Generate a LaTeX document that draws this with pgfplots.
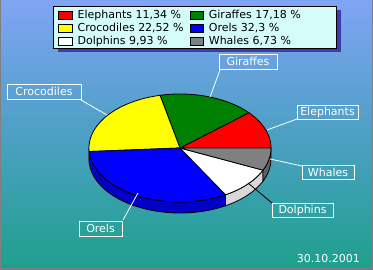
\documentclass[border=0pt]{standalone}
\usepackage{pgfplots}
\pgfplotsset{compat=1.18}
\usepackage{pgfplotstable}
\usepackage{fontspec}
\setmainfont{DejaVu Sans}

\definecolor{bgtop}{HTML}{80A4F4}
\definecolor{bgmid}{HTML}{4CA0C4}
\definecolor{bgbot}{HTML}{1EA08C}
\definecolor{legfill}{HTML}{D4FCF8}
\definecolor{legshadow}{HTML}{3C3CB0}
\definecolor{cEle}{HTML}{FF0000}
\definecolor{cGir}{HTML}{008000}
\definecolor{cCro}{HTML}{FFFF00}
\definecolor{cOre}{HTML}{0000FF}
\definecolor{cDol}{HTML}{FFFFFF}
\definecolor{cWha}{HTML}{808080}
\definecolor{sCro}{HTML}{C8C800}
\definecolor{sOre}{HTML}{0000C8}
\definecolor{sDol}{HTML}{D8D8D8}
\definecolor{sWha}{HTML}{606060}

% shares in percent, counter-clockwise from the right
\pgfplotstableread{
animal     share
Elephants  11.34
Giraffes   17.18
Crocodiles 22.52
Orels      32.3
Dolphins   9.93
Whales     6.73
}\shares

% cumulative slice angles
\def\angA{0}
\pgfplotstablegetelem{0}{share}\of\shares \pgfmathsetmacro\angB{\angA+3.6*\pgfplotsretval}
\pgfplotstablegetelem{1}{share}\of\shares \pgfmathsetmacro\angC{\angB+3.6*\pgfplotsretval}
\pgfplotstablegetelem{2}{share}\of\shares \pgfmathsetmacro\angD{\angC+3.6*\pgfplotsretval}
\pgfplotstablegetelem{3}{share}\of\shares \pgfmathsetmacro\angE{\angD+3.6*\pgfplotsretval}
\pgfplotstablegetelem{4}{share}\of\shares \pgfmathsetmacro\angF{\angE+3.6*\pgfplotsretval}
\pgfplotstablegetelem{5}{share}\of\shares \pgfmathsetmacro\angG{\angF+3.6*\pgfplotsretval}

% pie geometry (axis units = pt)
\def\cx{180}
\def\cy{121}
\def\rx{91}
\def\ry{54}
\def\dep{11}

\newcommand\topslice[3]{%
  \addplot[fill=#3, draw=black, line width=0.8pt, domain=#1:#2, samples=60]
    ({\cx+\rx*cos(x)},{\cy+\ry*sin(x)}) -- (\cx,\cy) -- cycle;}

% rim piece: upper edge as a plot, back along the lower edge
\newcommand\sideslice[3]{%
  \addplot[fill=#3, draw=black, line width=0.8pt, forget plot, domain=#1:#2, samples=40]
    ({\cx+\rx*cos(x)},{\cy+\ry*sin(x)})
    -- ({\cx+\rx*cos(#2)},{\cy-\dep+\ry*sin(#2)})
    arc[start angle=#2, end angle=#1, x radius=\rx pt, y radius=\ry pt] -- cycle;}

\tikzset{lbl/.style={draw=white, line width=0.8pt, text=white, inner sep=0pt,
  font=\fontsize{11}{13}\selectfont}}

\begin{document}
\begin{tikzpicture}
  % background
  \shade[top color=bgtop, bottom color=bgbot, middle color=bgmid] (0,0) rectangle (373pt,269pt);
  \draw[gray, line width=1pt] (0.5pt,269pt) -- (0.5pt,0.5pt) -- (372.5pt,0.5pt) -- (372.5pt,269pt);
\begin{axis}[
  width=373pt, height=269pt, scale only axis,
  xmin=0, xmax=373, ymin=0, ymax=269,
  hide axis, clip=false,
  legend columns=2,
  legend style={at={(axis cs:58.3,259)}, anchor=north west, draw=none, fill=none,
    inner sep=0pt, font=\fontsize{11}{13}\selectfont,
    nodes={inner sep=0pt, text height=8pt, text depth=2.5pt, anchor=west},
    row sep=2.5pt,
    /tikz/every odd column/.append style={column sep=5pt},
    /tikz/every even column/.append style={column sep=6pt}},
  legend image code/.code={\draw[#1, draw=black, line width=0.8pt] (0pt,-4pt) rectangle (13.4pt,4pt);},
]
  % legend frame with shadow
  \fill[legshadow] (axis cs:57.8,216.8) rectangle (axis cs:341.2,259);
  \filldraw[fill=legfill, draw=black, line width=0.8pt] (axis cs:53.3,263) rectangle (axis cs:336.7,220.7);

  % visible rim of the front half
  \sideslice{180}{\angD}{sCro}
  \sideslice{\angD}{\angE}{sOre}
  \sideslice{\angE}{\angF}{sDol}
  \sideslice{\angF}{\angG}{sWha}

  % top faces
  \topslice{\angA}{\angB}{cEle}
  \addlegendentry{Elephants 11,34 \%}
  \topslice{\angB}{\angC}{cGir}
  \addlegendentry{Giraffes 17,18 \%}
  \topslice{\angC}{\angD}{cCro}
  \addlegendentry{Crocodiles 22,52 \%}
  \topslice{\angD}{\angE}{cOre}
  \addlegendentry{Orels 32,3 \%}
  \topslice{\angE}{\angF}{cDol}
  \addlegendentry{Dolphins 9,93 \%}
  \topslice{\angF}{\angG}{cWha}
  \addlegendentry{Whales 6,73 \%}

  % leader lines
  \draw[white, line width=0.8pt] (axis cs:220,199) -- (axis cs:210,172);
  \draw[white, line width=0.8pt] (axis cs:81,169) -- (axis cs:107,154);
  \draw[white, line width=0.8pt] (axis cs:297,150) -- (axis cs:267,139);
  \draw[white, line width=0.8pt] (axis cs:270,110) -- (axis cs:302,103);
  \draw[black, line width=0.8pt] (axis cs:248,86) -- (axis cs:272,66);
  \draw[white, line width=0.8pt] (axis cs:123,49) -- (axis cs:138,76);

  % slice labels
  \node[lbl, minimum width=58pt, minimum height=15pt] at (axis cs:248,207.5) {Giraffes};
  \node[lbl, minimum width=74pt, minimum height=15pt] at (axis cs:44,177.5) {Crocodiles};
  \node[lbl, minimum width=61pt, minimum height=14pt] at (axis cs:327.5,157) {Elephants};
  \node[lbl, minimum width=52pt, minimum height=14pt] at (axis cs:328,96.3) {Whales};
  \node[lbl, minimum width=61pt, minimum height=14pt] at (axis cs:302.5,59) {Dolphins};
  \node[lbl, minimum width=43pt, minimum height=15pt] at (axis cs:100.5,40.5) {Orels};

  % date stamp
  \node[text=white, anchor=base east, inner sep=0pt, font=\fontsize{11}{13}\selectfont]
    at (axis cs:360,7) {30.10.2001};
\end{axis}
  % the page is exactly the drawing area
  \pgfresetboundingbox
  \path (0,0) rectangle (373pt,269pt);
\end{tikzpicture}
\end{document}
